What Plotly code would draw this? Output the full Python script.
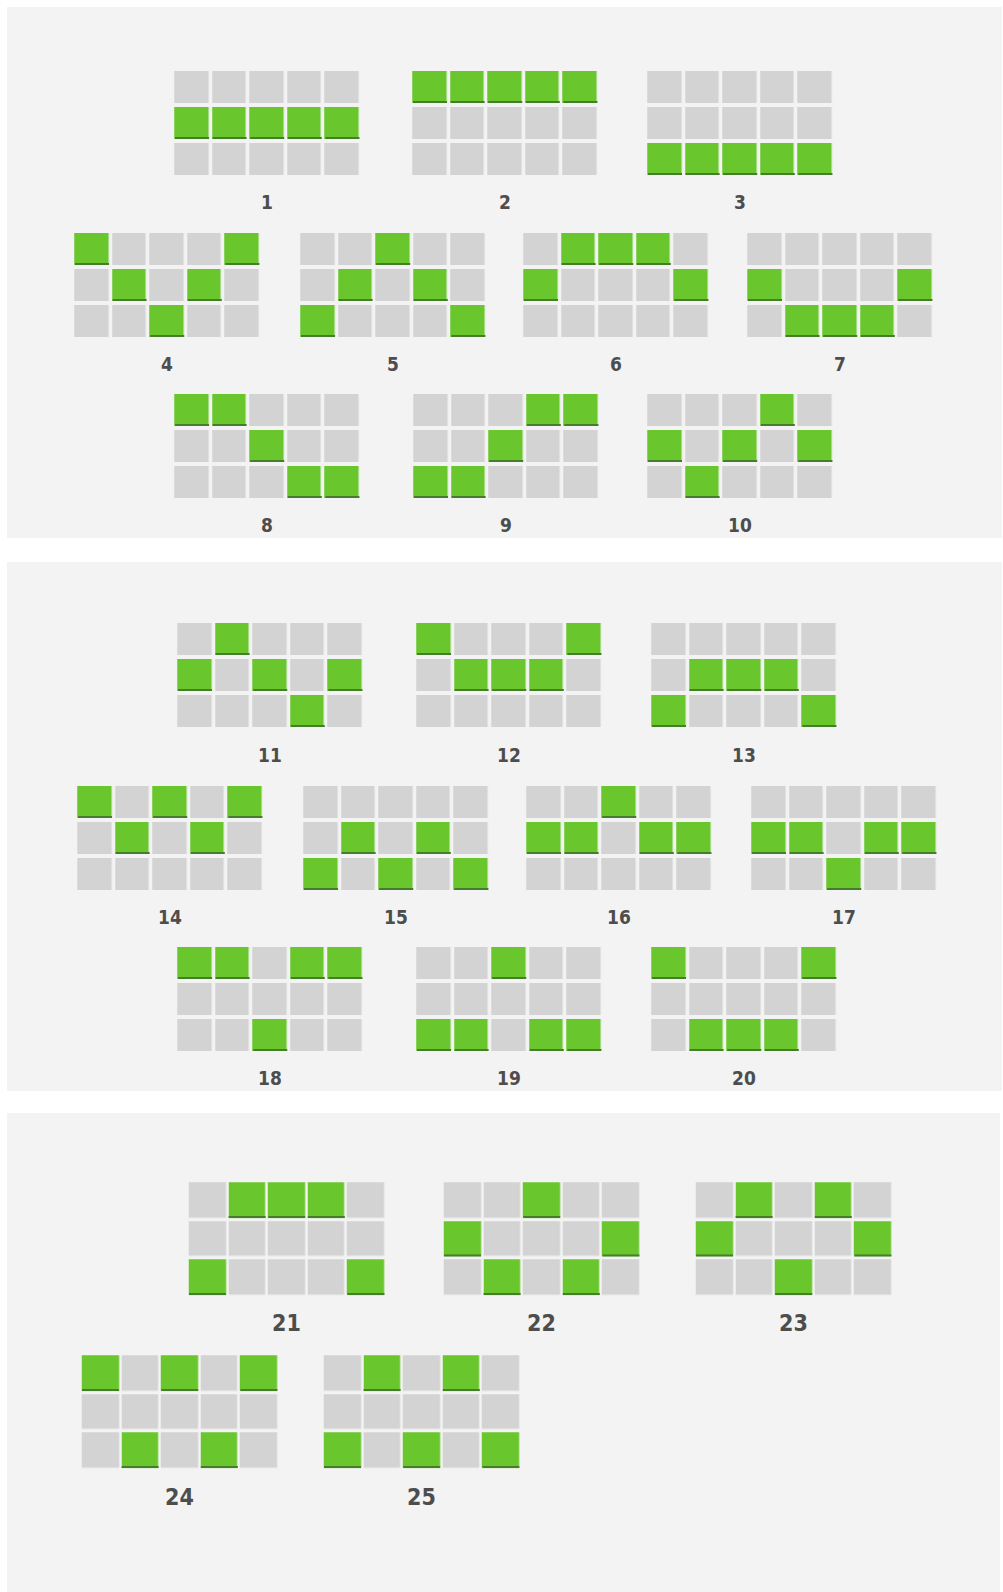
import plotly.graph_objects as go

# ---- data: each payline = row index (0 top, 1 middle, 2 bottom) for reels 1..5
payline_numbers = list(range(1, 26))
paylines = [
    [1, 1, 1, 1, 1],  # 1
    [0, 0, 0, 0, 0],  # 2
    [2, 2, 2, 2, 2],  # 3
    [0, 1, 2, 1, 0],  # 4
    [2, 1, 0, 1, 2],  # 5
    [1, 0, 0, 0, 1],  # 6
    [1, 2, 2, 2, 1],  # 7
    [0, 0, 1, 2, 2],  # 8
    [2, 2, 1, 0, 0],  # 9
    [1, 2, 1, 0, 1],  # 10
    [1, 0, 1, 2, 1],  # 11
    [0, 1, 1, 1, 0],  # 12
    [2, 1, 1, 1, 2],  # 13
    [0, 1, 0, 1, 0],  # 14
    [2, 1, 2, 1, 2],  # 15
    [1, 1, 0, 1, 1],  # 16
    [1, 1, 2, 1, 1],  # 17
    [0, 0, 2, 0, 0],  # 18
    [2, 2, 0, 2, 2],  # 19
    [0, 2, 2, 2, 0],  # 20
    [2, 0, 0, 0, 2],  # 21
    [1, 2, 0, 2, 1],  # 22
    [1, 0, 2, 0, 1],  # 23
    [0, 2, 0, 2, 0],  # 24
    [2, 0, 2, 0, 2],  # 25
]
n_reels = 5
n_rows = 3

# ---- layout (pixel placement of each grid on the page)
W, H = 1003, 1592
panels = [  # x0, y0, x1, y1
    (7, 7, 1002, 538),
    (7, 562, 1002, 1091),
    (7, 1113, 1000, 1592),
]
small = dict(px=37.6, py=36.0, gx=3.6, gy=4.0, font=19)
large = dict(px=39.6, py=38.5, gx=2.6, gy=3.5, font=23)
grid_pos = {  # number: (left, top, label_y, style)
    1: (175, 71, 202, small), 2: (413, 71, 202, small), 3: (648, 71, 202, small),
    4: (75, 233, 364, small), 5: (301, 233, 364, small), 6: (524, 233, 364, small), 7: (748, 233, 364, small),
    8: (175, 394, 525, small), 9: (414, 394, 525, small), 10: (648, 394, 525, small),
    11: (178, 623, 755, small), 12: (417, 623, 755, small), 13: (652, 623, 755, small),
    14: (78, 786, 917, small), 15: (304, 786, 917, small), 16: (527, 786, 917, small), 17: (752, 786, 917, small),
    18: (178, 947, 1078, small), 19: (417, 947, 1078, small), 20: (652, 947, 1078, small),
    21: (189, 1183, 1323, large), 22: (444, 1183, 1323, large), 23: (696, 1183, 1323, large),
    24: (82, 1356, 1497, large), 25: (324, 1356, 1497, large),
}

GREEN = "#69c62c"
GRAY = "#d3d3d3"
SHADOW = "#457d2c"
PANEL = "#f3f3f3"
LABEL = "#4d4d4d"

fig = go.Figure()

shadow_x, shadow_y = [], []
annotations = []
for num, line in zip(payline_numbers, paylines):
    left, top, label_y, st = grid_pos[num]
    px, py, gx, gy = st["px"], st["py"], st["gx"], st["gy"]
    z = [[1 if line[c] == r else 0 for c in range(n_reels)] for r in range(n_rows)]
    x0 = left + px / 2 - gx / 2
    y0 = top + py / 2 - gy / 2
    fig.add_trace(go.Heatmap(
        z=z, x0=x0, dx=px, y0=y0, dy=py,
        xgap=gx, ygap=gy,
        colorscale=[[0, GRAY], [0.5, GRAY], [0.5, GREEN], [1, GREEN]],
        zmin=0, zmax=1, showscale=False, hoverinfo="skip",
    ))
    for c, r in enumerate(line):
        cx = x0 + c * px
        cy = y0 + r * py
        xl = cx - px / 2 + gx / 2
        xr = cx + px / 2 - gx / 2
        yb = cy + py / 2 - gy / 2 - 1
        shadow_x += [xl, xr, None]
        shadow_y += [yb, yb, None]
    annotations.append(dict(
        x=left + (n_reels * px - gx) / 2, y=label_y, xref="x", yref="y",
        text=str(num), showarrow=False, xanchor="center", yanchor="middle",
        font=dict(family="DejaVu Sans Condensed, Liberation Sans Narrow, sans-serif",
                  size=st["font"], color=LABEL, weight="bold"),
    ))

fig.add_trace(go.Scatter(
    x=shadow_x, y=shadow_y, mode="lines",
    line=dict(color=SHADOW, width=2), hoverinfo="skip", showlegend=False,
))

shapes = [dict(type="rect", xref="x", yref="y", x0=a, y0=b, x1=c, y1=d,
               fillcolor=PANEL, line=dict(width=0), layer="below")
          for a, b, c, d in panels]

fig.update_layout(
    width=W, height=H, margin=dict(l=0, r=0, t=0, b=0),
    paper_bgcolor="#ffffff", plot_bgcolor="#ffffff",
    showlegend=False, shapes=shapes, annotations=annotations,
    xaxis=dict(range=[0, W], visible=False, fixedrange=True),
    yaxis=dict(range=[H, 0], visible=False, fixedrange=True),
)

fig.write_html("out.html",
               config={"displayModeBar": False, "staticPlot": True},
               post_script="document.body.style.margin='0';document.body.style.overflow='hidden';")
